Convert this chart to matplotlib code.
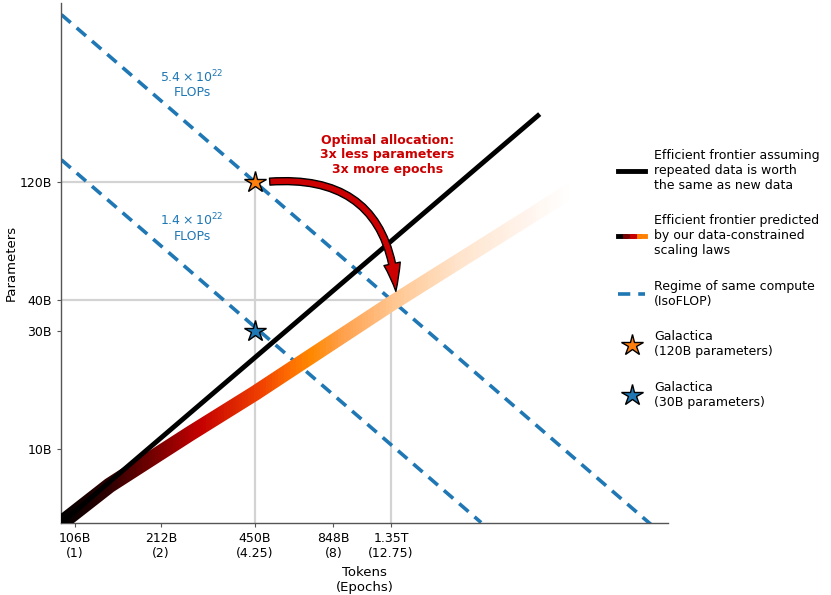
import numpy as np
import matplotlib
matplotlib.use("Agg")
import matplotlib.pyplot as plt
from matplotlib.colors import LinearSegmentedColormap
from matplotlib.lines import Line2D
from matplotlib.legend_handler import HandlerTuple
from matplotlib.patches import FancyArrowPatch
from matplotlib.transforms import Bbox, TransformedBbox

# all values in billions (tokens / parameters)
tick_tokens = [106, 212, 450, 848, 1350]
tick_token_labels = ["106B\n(1)", "212B\n(2)", "450B\n(4.25)", "848B\n(8)", "1.35T\n(12.75)"]
tick_params = [10, 30, 40, 120]
tick_param_labels = ["10B", "30B", "40B", "120B"]

# frontier if repeated data were worth as much as new data
chinchilla_tokens = [95, 4470]
chinchilla_params = [5.0, 225]

# data-constrained frontier
ours_tokens = [95, 140, 268, 450, 1350, 5800]
ours_params = [5.0, 7.1, 11.5, 16.7, 38.5, 111]

# IsoFLOP lines
iso_hi_tokens = [95, 11300]
iso_hi_params = [568, 4.78]
iso_lo_tokens = [95, 2790]
iso_lo_params = [147, 5.02]

galactica_tokens = [450, 450]
galactica_params = [120, 30]
optimal_tokens = 1350
optimal_params = 40

plt.rcParams["font.size"] = 9

fig = plt.figure(figsize=(8.31, 5.95), dpi=100)
ax = fig.add_axes([61 / 831, 72 / 595, 607 / 831, 520 / 595])
ax.set_xscale("log")
ax.set_yscale("log")
ax.set_xlim(94.7, 12560)
ax.set_ylim(5.0, 633)
xmin, xmax = ax.get_xlim()
ymin, ymax = ax.get_ylim()

# guide lines to the Galactica point and the optimal point
grid_kw = dict(color="#d3d3d3", lw=1.6, zorder=0)
ax.plot([galactica_tokens[0], galactica_tokens[0]], [ymin, galactica_params[0]], **grid_kw)
ax.plot([xmin, galactica_tokens[0]], [galactica_params[0], galactica_params[0]], **grid_kw)
ax.plot([optimal_tokens, optimal_tokens], [ymin, optimal_params], **grid_kw)
ax.plot([xmin, optimal_tokens], [optimal_params, optimal_params], **grid_kw)

# isoflop lines
blue = "#1f77b4"
ax.plot(iso_hi_tokens, iso_hi_params, color=blue, lw=2.6, dashes=(3.4, 2.2), zorder=2)
ax.plot(iso_lo_tokens, iso_lo_params, color=blue, lw=2.6, dashes=(3.4, 2.2), zorder=2)

# gradient frontier: same line drawn many times, each clipped to a vertical strip
cmap = LinearSegmentedColormap.from_list("frontier", [
    (0.0, "#000000"), (0.094, "#300000"), (0.19, "#800000"), (0.27, "#c40000"),
    (0.39, "#f04000"), (0.45, "#ff7000"), (0.49, "#ff8800"), (0.55, "#ffa04c"),
    (0.65, "#ffc690"), (0.78, "#ffe4cc"), (0.91, "#fff4ec"), (1.0, "#ffffff")])
to_axes = ax.transData + ax.transAxes.inverted()
pts = to_axes.transform(np.column_stack([ours_tokens, ours_params]))
a0, a1 = pts[0, 0], pts[-1, 0]
nstrip = 170
w = (a1 - a0) / nstrip
for i in range(nstrip):
    ln, = ax.plot(ours_tokens, ours_params, color=cmap((i + 0.5) / nstrip), lw=11,
                  solid_capstyle="butt", zorder=3)
    box = Bbox([[a0 + i * w, 0], [a0 + (i + 1) * w, 1]])
    ln.set_clip_box(TransformedBbox(box, ax.transAxes))

ax.plot(chinchilla_tokens, chinchilla_params, color="black", lw=3.5,
        solid_capstyle="butt", zorder=4)

# galactica stars
ax.plot(galactica_tokens[0], galactica_params[0], marker="*", ms=16, color="#ff7f0e",
        mec="black", mew=1, ls="none", zorder=6)
ax.plot(galactica_tokens[1], galactica_params[1], marker="*", ms=16, color=blue,
        mec="black", mew=1, ls="none", zorder=6)

# curved arrow
arrow = FancyArrowPatch((galactica_tokens[0] * 1.13, galactica_params[0]),
                        (optimal_tokens * 1.04, optimal_params * 1.08),
                        connectionstyle="arc3,rad=-0.5",
                        arrowstyle="simple,tail_width=0.5,head_width=1.2,head_length=2.0",
                        mutation_scale=10, fc="#cc0000", ec="black", lw=1,
                        shrinkA=0, shrinkB=0, zorder=7)
ax.add_patch(arrow)

ax.text(1309, 154, "Optimal allocation:\n3x less parameters\n3x more epochs",
        ha="center", va="center", color="#cc0000", fontweight="bold", fontsize=9,
        linespacing=1.15)
ax.text(272, 298, "$5.4 \\times 10^{22}$\nFLOPs", ha="center", va="center",
        color=blue, fontsize=9, linespacing=1.1)
ax.text(272, 78.5, "$1.4 \\times 10^{22}$\nFLOPs", ha="center", va="center",
        color=blue, fontsize=9, linespacing=1.1)

# axes styling
ax.xaxis.set_minor_locator(plt.NullLocator())
ax.yaxis.set_minor_locator(plt.NullLocator())
ax.set_xticks(tick_tokens)
ax.set_xticklabels(tick_token_labels)
ax.set_yticks(tick_params)
ax.set_yticklabels(tick_param_labels)
ax.tick_params(length=3, width=0.8, color="#555555", labelsize=9)
for side in ["top", "right"]:
    ax.spines[side].set_visible(False)
for side in ["left", "bottom"]:
    ax.spines[side].set_color("#555555")
    ax.spines[side].set_linewidth(1)
ax.set_xlabel("Tokens\n(Epochs)", fontsize=9.5)
ax.set_ylabel("Parameters", fontsize=9.5, labelpad=1.5)

# legend
grad_handle = tuple(Line2D([], [], color=c, lw=3.5)
                    for c in ["black", "#7a0000", "#c80000", "#ff8000"])
handles = [
    Line2D([], [], color="black", lw=3.5),
    grad_handle,
    Line2D([], [], color=blue, lw=2.6, dashes=(3.4, 2.2)),
    Line2D([], [], marker="*", ms=16, color="#ff7f0e", mec="black", mew=1, ls="none"),
    Line2D([], [], marker="*", ms=16, color=blue, mec="black", mew=1, ls="none"),
]
labels = [
    "Efficient frontier assuming\nrepeated data is worth\nthe same as new data",
    "Efficient frontier predicted\nby our data-constrained\nscaling laws",
    "Regime of same compute\n(IsoFLOP)",
    "Galactica\n(120B parameters)",
    "Galactica\n(30B parameters)",
]
ax.legend(handles, labels, loc="upper left", bbox_to_anchor=(0.9176, 0.72),
          frameon=False, borderpad=0, borderaxespad=0, labelspacing=1.8,
          handlelength=2.2, handletextpad=0.7, fontsize=9,
          handler_map={tuple: HandlerTuple(ndivide=None, pad=0)})

fig.savefig("out.png", dpi=100)
